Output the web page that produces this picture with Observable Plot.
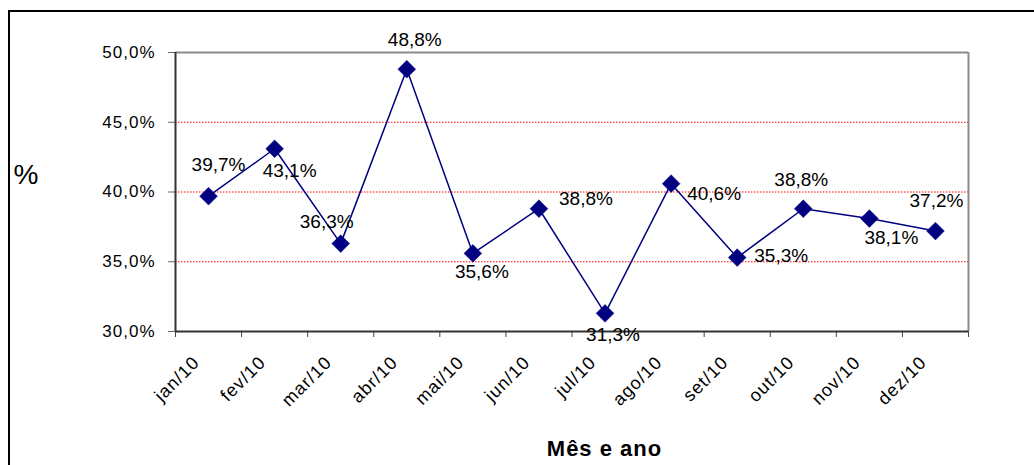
<!DOCTYPE html>
<html><head><meta charset="utf-8">
<script src="https://cdn.jsdelivr.net/npm/d3@7"></script>
<script src="https://cdn.jsdelivr.net/npm/@observablehq/plot@0.6"></script>
<style>
body{margin:0;background:#fff;}
#wrap{position:relative;width:1034px;height:465px;overflow:hidden;}
#frame{position:absolute;left:8px;top:10px;width:1100px;height:600px;border-left:2px solid #000;border-top:2px solid #000;z-index:2;pointer-events:none;}
#chart svg{position:absolute;left:0;top:0;}
.ls1{letter-spacing:1px;}
</style></head><body>
<div id="wrap"><div id="frame"></div><div id="chart"></div></div>
<script>
// Data
const months = ["jan/10","fev/10","mar/10","abr/10","mai/10","jun/10","jul/10","ago/10","set/10","out/10","nov/10","dez/10"];
const values = [39.7, 43.1, 36.3, 48.8, 35.6, 38.8, 31.3, 40.6, 35.3, 38.8, 38.1, 37.2];
const yTicks = [30, 35, 40, 45, 50];
const gridValues = [35, 40, 45];
// Label placement (style, pixel offsets from each point)
const labelOffsets = [[10,-31],[15,22],[-14,-22],[8,-29],[9,19],[47,-10],[8,22],[43,10],[44,-2],[-2,-29],[22,19],[1,-30]];

const fmt = v => v.toFixed(1).replace(".", ",") + "%";
const idx = d3.range(months.length);
const navy = "#000080";

const labelMarks = idx.map(i => Plot.text([i], {
  x: j => j + 0.5, y: j => values[j], text: j => fmt(values[j]),
  dx: labelOffsets[i][0], dy: labelOffsets[i][1],
  fontSize: 19, fill: "#000", textAnchor: "middle", lineAnchor: "middle"
}));

const chart = Plot.plot({
  width: 1034, height: 465,
  marginLeft: 175, marginRight: 66, marginTop: 52, marginBottom: 134,
  style: {fontFamily: "Arial, 'Liberation Sans', sans-serif", background: "transparent", overflow: "visible"},
  x: {type: "linear", domain: [0, 12], axis: null},
  y: {domain: [30, 50], axis: null},
  marks: [
    Plot.ruleY(gridValues, {stroke: "#ff0000", strokeDasharray: "1.5,1.5", strokeWidth: 1}),
    Plot.ruleY([50], {stroke: "#8c8c8c", strokeWidth: 2}),
    Plot.ruleX([12], {stroke: "#8c8c8c", strokeWidth: 2}),
    Plot.axisY(yTicks, {tickSize: 7, tickPadding: 13, tickFormat: fmt, fontSize: 17, stroke: "#666", fill: "#000", className: "ls1"}),
    Plot.axisX(d3.range(13), {tickSize: 6, tickFormat: () => "", stroke: "#444"}),
    Plot.ruleX([0], {stroke: "#333", strokeWidth: 2}),
    Plot.ruleY([30], {stroke: "#333", strokeWidth: 2}),
    Plot.text(months, {x: (d, i) => i + 0.5, y: () => 30, text: d => d, rotate: -45, textAnchor: "end", lineAnchor: "middle",
      dx: -12, dy: 28, fontSize: 18, fill: "#000", className: "ls1"}),
    Plot.line(idx, {x: i => i + 0.5, y: i => values[i], stroke: navy, strokeWidth: 1.5}),
    Plot.dot(idx, {x: i => i + 0.5, y: i => values[i], symbol: "diamond2", r: 8, fill: navy, stroke: navy, strokeWidth: 0.5}),
    ...labelMarks,
    Plot.text(["%"], {frameAnchor: "top-left", lineAnchor: "middle", textAnchor: "middle", dx: -149.5, dy: 123, fontSize: 28, fill: "#000"}),
    Plot.text(["Mês e ano"], {frameAnchor: "top-left", lineAnchor: "middle", textAnchor: "middle", dx: 429, dy: 396, fontSize: 22, fontWeight: "bold", fill: "#000", className: "ls1"})
  ]
});
document.getElementById("chart").appendChild(chart);
</script>
</body></html>
